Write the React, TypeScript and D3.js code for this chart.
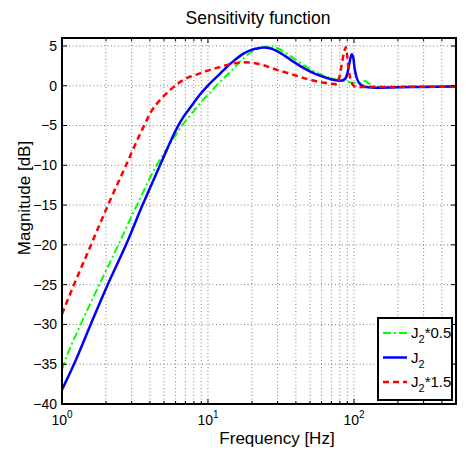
import React from "react";
import * as d3 from "d3";

// ---- data ----
const FREQ_J2 = [1, 1.208, 1.572, 2.055, 2.744, 3.56, 4.69, 5.239, 5.666, 6.135, 6.742, 7.527, 8.813, 10.32, 12.08, 13.71, 15.31, 17.37, 19.4, 22.71, 24.18, 26.59, 29.69, 33.68, 38.21, 42.67, 49.96, 55.8, 65.34, 72, 80, 86, 90, 93, 96.5, 99, 101, 104, 108, 115, 125, 140, 200, 300, 500];
const DB_J2 = [-38.2, -35, -30, -25, -20, -15, -10, -8.0, -6.6, -5.3, -4.0, -2.8, -1.1, 0.3, 1.5, 2.5, 3.25, 4.0, 4.45, 4.75, 4.8, 4.72, 4.35, 3.75, 3.06, 2.5, 1.8, 1.4, 0.97, 0.75, 0.63, 0.8, 1.5, 2.8, 3.95, 3.5, 2.2, 1.1, 0.4, 0.0, -0.2, -0.25, -0.2, -0.15, -0.1];

const FREQ_J2_05 = [1, 1.03, 1.343, 1.802, 2.43, 3.26, 4.45, 5.157, 5.8, 6.36, 7.41, 8.5, 9.54, 10.32, 11.52, 13.07, 14.15, 15.31, 17.37, 19.5, 22.71, 26.59, 29.69, 33.68, 38.21, 42.67, 49.96, 55.8, 65.34, 76.48, 84, 92, 100, 108, 114, 119, 124, 130, 143, 200, 500];
const DB_J2_05 = [-35.7, -35, -30, -25, -20, -15, -10, -8.1, -6.6, -5.5, -3.9, -2.6, -1.5, -0.9, 0.1, 1.1, 1.7, 2.35, 3.4, 4.15, 4.73, 4.95, 4.75, 4.2, 3.5, 2.9, 2.1, 1.6, 1.1, 0.75, 0.6, 0.48, 0.38, 0.38, 0.5, 0.6, 0.4, 0.1, -0.15, -0.15, -0.05];

const FREQ_J2_15 = [1, 1.208, 1.555, 2.066, 2.744, 3.421, 3.702, 4.006, 4.335, 4.691, 5.492, 6.742, 8.813, 10.32, 11.52, 14.15, 17.37, 22.71, 29.69, 38.21, 49.96, 65.34, 76, 79, 82, 85, 88, 90, 92, 94.5, 97.5, 104, 150, 500];
const DB_J2_15 = [-28.7, -25, -20.3, -15, -10, -6.1, -4.8, -3.5, -2.55, -1.8, -0.55, 0.7, 1.55, 2.0, 2.25, 2.7, 2.95, 2.7, 2.0, 1.4, 0.75, 0.33, 0.2, 0.9, 2.4, 4.0, 4.85, 3.6, 2.0, 0.9, 0.2, -0.15, -0.15, -0.1];

const Y_TICKS = [-40, -35, -30, -25, -20, -15, -10, -5, 0, 5];
const X_MAJOR = [1, 10, 100];
const X_MAJOR_EXP = ["0", "1", "2"];
const X_MINOR = [2, 3, 4, 5, 6, 7, 8, 9, 20, 30, 40, 50, 60, 70, 80, 90, 200, 300, 400];

const LEGEND_LABELS = ["*0.5", "", "*1.5"];

const TITLE = "Sensitivity function";
const X_LABEL = "Frequency [Hz]";
const Y_LABEL = "Magnitude [dB]";

const FONT = "'Liberation Sans', Arial, Helvetica, sans-serif";

export default function App() {
  const L = 62, R = 456, T = 38, B = 404;
  const x = d3.scaleLog().domain([1, 500]).range([L, R]);
  const y = d3.scaleLinear().domain([-40, 6]).range([B, T]);

  const mk = (fs: number[], ds: number[]) =>
    d3
      .line<number>()
      .x((_, i) => x(fs[i]))
      .y((d) => y(d))
      .curve(d3.curveMonotoneX)(ds) || "";

  const series = [
    { f: FREQ_J2_05, d: DB_J2_05, color: "#00ff00", w: 2, dash: "8,3,2,3" },
    { f: FREQ_J2, d: DB_J2, color: "#0000ff", w: 2.5, dash: undefined },
    { f: FREQ_J2_15, d: DB_J2_15, color: "#ff0000", w: 2.5, dash: "6,4" },
  ];

  const gridColor = "#808080";

  return (
    <svg
      width={466}
      height={452}
      style={{ position: "absolute", left: 0, top: 0, background: "#fff" }}
      fontFamily={FONT}
    >
      <rect x={0} y={0} width={466} height={452} fill="#fff" />
      {/* grid */}
      <g stroke={gridColor} strokeWidth={1} strokeDasharray="1,2.5">
        {[...X_MAJOR, ...X_MINOR].map((v) => (
          <line key={"gx" + v} x1={x(v)} x2={x(v)} y1={T} y2={B} />
        ))}
        {Y_TICKS.map((v) => (
          <line key={"gy" + v} x1={L} x2={R} y1={y(v)} y2={y(v)} />
        ))}
      </g>
      {/* curves */}
      <defs>
        <clipPath id="plotclip">
          <rect x={L} y={T} width={R - L} height={B - T} />
        </clipPath>
      </defs>
      <g clipPath="url(#plotclip)" fill="none">
        {series.map((s, i) => (
          <path
            key={i}
            d={mk(s.f, s.d)}
            stroke={s.color}
            strokeWidth={s.w}
            strokeDasharray={s.dash}
            strokeLinejoin="round"
          />
        ))}
      </g>
      {/* ticks */}
      <g stroke="#000" strokeWidth={1}>
        {X_MAJOR.map((v) => (
          <g key={"tx" + v}>
            <line x1={x(v)} x2={x(v)} y1={B} y2={B - 5} />
            <line x1={x(v)} x2={x(v)} y1={T} y2={T + 5} />
          </g>
        ))}
        {X_MINOR.map((v) => (
          <g key={"tm" + v}>
            <line x1={x(v)} x2={x(v)} y1={B} y2={B - 3} />
            <line x1={x(v)} x2={x(v)} y1={T} y2={T + 3} />
          </g>
        ))}
        {Y_TICKS.map((v) => (
          <g key={"ty" + v}>
            <line x1={L} x2={L + 5} y1={y(v)} y2={y(v)} />
            <line x1={R} x2={R - 5} y1={y(v)} y2={y(v)} />
          </g>
        ))}
      </g>
      {/* frame */}
      <rect x={L} y={T} width={R - L} height={B - T} fill="none" stroke="#000" strokeWidth={2} />
      {/* tick labels */}
      <g fontSize={14} fill="#000">
        {Y_TICKS.map((v) => (
          <text key={"ly" + v} x={L - 5} y={y(v)} dy="0.35em" textAnchor="end">
            {v < 0 ? "\u2212" + Math.abs(v) : String(v)}
          </text>
        ))}
        {X_MAJOR.map((v, i) => (
          <text key={"lx" + v} x={x(v)} y={425} textAnchor="middle">
            10
            <tspan fontSize={10} dy={-7}>
              {X_MAJOR_EXP[i]}
            </tspan>
          </text>
        ))}
      </g>
      {/* labels */}
      <text x={258} y={24} fontSize={17.5} textAnchor="middle">
        {TITLE}
      </text>
      <text x={277} y={444} fontSize={17} textAnchor="middle">
        {X_LABEL}
      </text>
      <text
        transform={`translate(30,198) rotate(-90)`}
        fontSize={17}
        textAnchor="middle"
      >
        {Y_LABEL}
      </text>
      {/* legend */}
      <g>
        <rect x={378} y={318} width={74} height={82} fill="#fff" stroke="#000" strokeWidth={2} />
        {series.map((s, i) => {
          const ly = 333 + i * 24.5;
          return (
            <g key={"lg" + i}>
              <line
                x1={383}
                x2={407}
                y1={ly}
                y2={ly}
                stroke={s.color}
                strokeWidth={s.w}
                strokeDasharray={s.dash}
              />
              <text x={411} y={ly} dy="0.35em" fontSize={15}>
                J
                <tspan fontSize={11} dy={5}>
                  2
                </tspan>
                <tspan dy={-5}>{LEGEND_LABELS[i]}</tspan>
              </text>
            </g>
          );
        })}
      </g>
    </svg>
  );
}
